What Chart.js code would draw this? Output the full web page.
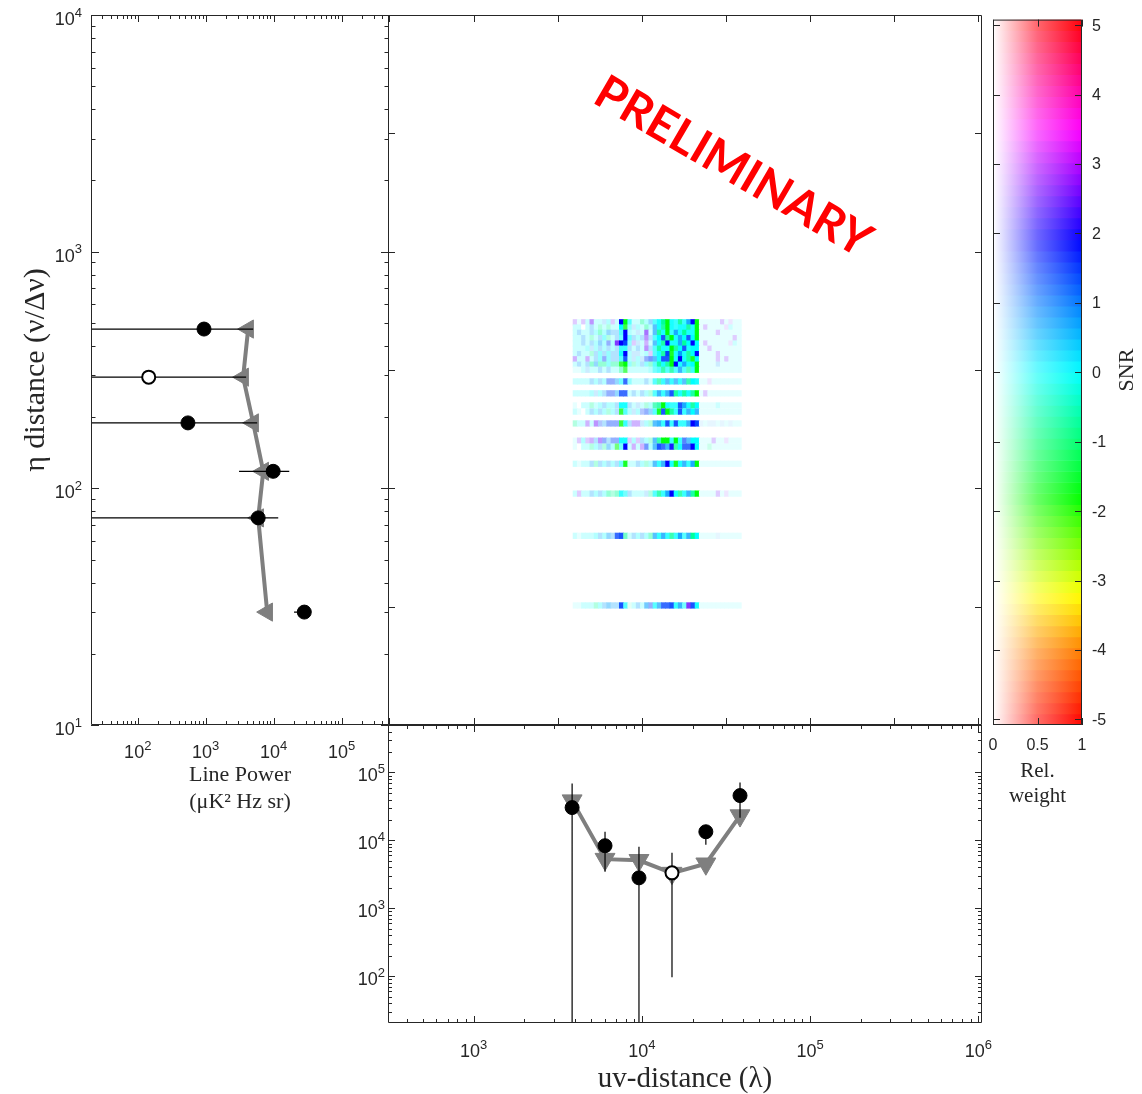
<!DOCTYPE html>
<html>
<head>
<meta charset="utf-8">
<script src="https://cdn.jsdelivr.net/npm/chart.js"></script>
<style>
  html, body { margin: 0; background: #fff; }
  #wrap { position: relative; width: 1142px; height: 1094px; }
  #wrap canvas { position: absolute; left: 0; top: 0; }
</style>
</head>
<body>
<div id="wrap">
  <canvas id="heatChart" width="1142" height="1094"></canvas>
  <canvas id="lineChart" width="1142" height="1094"></canvas>
  <canvas id="uvChart" width="1142" height="1094"></canvas>
  <canvas id="weightChart" width="1142" height="1094"></canvas>
</div>
<script>
// --- eta panel (left): line power per eta bin ---
const lineEta = [471, 295, 189, 118, 75, 30];
const linePower = [945, 145, 548, 9860, 5930, 28300];
const linePowerLow = [1, 1, 1, 3100, 1, 20000];
const linePowerHigh = [5000, 3940, 5730, 17000, 11700, 31000];
const lineOpen = [false, true, false, false, false, false];
const lineLimit = [4220, 3560, 5000, 7040, 5930, 8050];

// --- uv panel (bottom): power per uv bin ---
const uvDist = [3850, 6040, 9610, 15100, 24000, 38300];
const uvPower = [30400, 8350, 2810, 3330, 13400, 45700];
const uvPowerLow = [1, 3450, 1, 97, 8630, 21600];
const uvPowerHigh = [68800, 13400, 8070, 6580, 16500, 71100];
const uvOpen = [false, false, false, true, false, false];
const uvLimit = [38500, 5300, 5100, 3300, 4530, 23200];

// --- axis ranges and ticks ---
const powerMin = 20.5, powerMax = 5e5;
const etaMin = 10, etaMax = 1e4;
const uvMin = 310, uvMax = 1.05e6;
const snrMin = -5.08, snrMax = 5.08;

const powerDecades = [10, 100, 1000, 10000, 100000];
const powerLabelValues = [100, 1000, 10000, 100000];
const powerLabelExps = ['2', '3', '4', '5'];
const etaDecades = [10, 100, 1000, 10000];
const etaLabelExps = ['1', '2', '3', '4'];
const uvDecades = [100, 1000, 10000, 100000, 1000000];
const uvLabelValues = [1000, 10000, 100000, 1000000];
const uvLabelExps = ['3', '4', '5', '6'];
const uvGridTicks = [316, 1000, 3162, 10000, 31623, 100000, 316228, 1000000];
const etaGridTicks = [31.6, 100, 316, 1000, 3162];
const snrTicks = [-5, -4, -3, -2, -1, 0, 1, 2, 3, 4, 5];
const snrTickLabels = ['-5', '-4', '-3', '-2', '-1', '0', '1', '2', '3', '4', '5'];
const weightTicks = [0, 0.5, 1];
const weightTickLabels = ['0', '0.5', '1'];

// --- SNR map: one row per eta bin, 40 uv bins starting at uvBinStart ---
const uvBinStart = 3900;
const uvBinCount = 40;
const heatEta = [503, 478, 454, 431, 409, 389, 369, 351, 333, 317, 283, 252, 224, 211, 188, 159, 150, 127, 95, 63, 32];
// SNR code per cell
const heatSnrRows = [
  'v0v0v00+0v 0BG000-0+0 0-G00-0+BG 00000v0v00',
  '0000+0-0-0 00G0+00-0+ 0-G0000-0G 0v0000v000',
  '0+00+0-0++ +0B00+0v0+ -0G0+0-00G 0000v00000',
  '00+0-0+0-0 +0B0+0+v+0 0b-G0+0b0G 00000000v0',
  '00+0+0+0b0 vBb0v+0v0+ 0-B00+-0B0 0v00000v00',
  '0000+0+0+0 +00+0+0v+0 -00G-0b000 00v0000000',
  '0+00-+0+0+ +0B0++00v0 0-bG0+0-0B 0000v00000',
  'v00v0+0b0+ +0b0+0+bb+ 0bbG0B0-G0 0000v0v000',
  '0+0+-+--0- -GG0-0+0-0 -0-GB0+00G 0000+00000',
  '000+00+0+0 0-G0000000 0-0-0+0-0G 0000000000',
  '0000+0+0bb +0b0000+00 -0+0+0+-00 00v0000000',
  '00000+0+bb +bb0+0+0-0 +0+b-0-0-G 0v00000000',
  '0000-00+00 +00+0+0-0- -G000b+0-0 0000000000',
  '0000+0+0-0 +G00+0bb+0 GbG-0b0+0+ 0000000000',
  '-00v0vb+bb bG0+vv+0-+ +0b0b00+Bb +0++0+0+00',
  '0v0vv+vb+b b00v0v+0-+ -GG0G0b+00 000v00v000',
  '0000-0+-+0 G0B0v0vb0+ bb+B-0bbB0 00-0000000',
  '0000+-+0+0 +0G00+0-0+ 0+B0G0+0+G 0000000000',
  '0v00+0+0-- -00+000+-0 -0+B0-0+-G 0000v0v000',
  '000000+0++ bb-0+0+0-+ 0+0-0+0+-0 0000+00000',
  '00000-0+++ +b0-0+0+b0 +bbb0+0vb0 0000000000'
];
// relative weight code per cell (0 = none, 9 = full)
const heatWeightRows = [
  '2122422232 2996224346 8998787899 1111121111',
  '2202323232 2974232436 8898788889 1211111211',
  '2322334343 3693222526 8897889889 1111211111',
  '2232323432 3595333436 9889889899 1111111121',
  '2232334343 7994222326 8898889999 1211111121',
  '2223233333 3773232436 8889898899 1121111111',
  '2322334343 3893222326 8898898899 1111211111',
  '3223234443 3683232456 8889898889 1111212111',
  '2323444444 4794333446 8889988899 1111211111',
  '1122223232 2462222235 6767676679 1111111111',
  '2222333344 4574222326 6767676798 1111111111',
  '2222323344 4772323336 7778888889 1211111111',
  '1022323333 3883222336 7987788889 1111211111',
  '2102333333 3763233446 8898787797 1111111111',
  '3223243344 4773332336 7787877799 1111111111',
  '1232334434 4882323336 7997976699 1112111111',
  '1022333343 5592323536 8778787799 1121111111',
  '2122333333 3582233336 7798887789 1111111111',
  '2222333343 4753222236 7789877789 1111211111',
  '2122233343 7852333346 7777786799 1111111111',
  '1122233343 3861232546 6778775788 1111111111'
];
const snrCodes = { '0': 0, '+': 0.7, 'b': 1.4, 'B': 1.9, 'v': 2.5, '-': -0.7, 'g': -1.3, 'G': -1.7 };
const weightCodes = [0, 0.1, 0.2, 0.3, 0.42, 0.55, 0.66, 0.78, 0.9, 1];

// colour map: SNR -> hue, relative weight -> mix with white
const cmapSnr = [-5.08, -4, -3.2, -1.8, 0, 1.9, 3.5, 5.08];
const cmapHue = [0, 30, 60, 120, 180, 240, 300, 360];

const INK = '#262626';
const GRAY = '#7f7f7f';
const SANS = '"Liberation Sans", Arial, sans-serif';
const SERIF = '"Liberation Serif", "Times New Roman", serif';

Chart.defaults.font.family = SANS;
Chart.defaults.font.size = 18;
Chart.defaults.color = INK;

function snrColour(snr, w) {
  const s = Math.max(cmapSnr[0], Math.min(cmapSnr[cmapSnr.length - 1], snr));
  let h = 0;
  for (let i = 0; i < cmapSnr.length - 1; i++) {
    if (s >= cmapSnr[i] && s <= cmapSnr[i + 1]) {
      h = cmapHue[i] + (cmapHue[i + 1] - cmapHue[i]) * (s - cmapSnr[i]) / (cmapSnr[i + 1] - cmapSnr[i]);
      break;
    }
  }
  const f = n => { const k = (n + h / 60) % 6; return 1 - Math.max(Math.min(k, 4 - k, 1), 0); };
  const rgb = [f(5), f(3), f(1)].map(c => Math.round(255 * (1 - w + w * c)));
  return `rgb(${rgb.join(',')})`;
}

// log ticks: decades are major, 2..9 multiples are minor
function logTicks(decades, min, max) {
  const out = [];
  decades.forEach(d => {
    for (let m = 1; m <= 9; m++) {
      const v = d * m;
      if (v >= min && v <= max) out.push({ value: v, major: m === 1 });
    }
  });
  return out;
}
const labelFrom = (values, labels) => v => {
  const i = values.indexOf(v);
  return i < 0 ? '' : labels[i];
};

// box with inward ticks on all sides, power-of-ten labels and free text
function frame(lens, texts, powers) {
  return {
    id: 'frame',
    afterDatasetsDraw(chart) {
      const { ctx, chartArea: a } = chart;
      ctx.save();
      ctx.strokeStyle = INK;
      ctx.lineWidth = 1;
      ctx.beginPath();
      ['x', 'y'].forEach(id => {
        const s = chart.scales[id];
        const len = lens[id];
        s.ticks.forEach(t => {
          const l = t.major ? len[0] : len[1];
          const p = Math.round(s.getPixelForValue(t.value)) + 0.5;
          if (id === 'x') {
            ctx.moveTo(p, a.bottom); ctx.lineTo(p, a.bottom - l);
            ctx.moveTo(p, a.top); ctx.lineTo(p, a.top + l);
          } else {
            ctx.moveTo(a.left, p); ctx.lineTo(a.left + l, p);
            ctx.moveTo(a.right, p); ctx.lineTo(a.right - l, p);
          }
        });
      });
      ctx.rect(a.left + 0.5, a.top + 0.5, a.width - 1, a.height - 1);
      ctx.stroke();

      ctx.fillStyle = INK;
      ctx.textAlign = 'left';
      ctx.textBaseline = 'alphabetic';
      (powers || []).forEach(pw => {
        const s = chart.scales[pw.axis];
        pw.values.forEach((v, i) => {
          const p = s.getPixelForValue(v);
          ctx.font = `18px ${SANS}`;
          const wb = ctx.measureText('10').width;
          ctx.font = `13px ${SANS}`;
          const we = ctx.measureText(pw.exps[i]).width;
          let x0, yb;
          if (pw.axis === 'x') { x0 = p - (wb + we) / 2; yb = pw.baseline; }
          else { x0 = pw.right - wb - we; yb = p + pw.drop; }
          ctx.font = `18px ${SANS}`;
          ctx.fillText('10', x0, yb);
          ctx.font = `13px ${SANS}`;
          ctx.fillText(pw.exps[i], x0 + wb, yb - 8.5);
        });
      });

      (texts || []).forEach(tx => {
        ctx.save();
        ctx.translate(tx.x, tx.y);
        ctx.rotate(tx.angle * Math.PI / 180);
        ctx.font = tx.font;
        ctx.fillStyle = tx.color;
        ctx.textAlign = 'center';
        ctx.textBaseline = 'middle';
        ctx.fillText(tx.text, 0, 0);
        ctx.restore();
      });
      ctx.restore();
    }
  };
}

const base = {
  responsive: false, animation: false, events: [], devicePixelRatio: 1,
  plugins: { legend: { display: false }, tooltip: { enabled: false } }
};
const hidden = { grid: { display: false, drawTicks: false }, border: { display: false } };

// error bar segments, separated by gaps
const segments = pts => pts.flatMap(p => [p[0], p[1], { x: null, y: null }]);

// ---------- left panel ----------
new Chart(document.getElementById('lineChart'), {
  type: 'scatter',
  data: {
    datasets: [
      {
        data: lineEta.map((e, i) => ({ x: linePower[i], y: e })),
        pointRadius: lineOpen.map(o => o ? 6.5 : 7),
        pointBackgroundColor: lineOpen.map(o => o ? '#fff' : '#000'),
        pointBorderColor: '#000',
        pointBorderWidth: lineOpen.map(o => o ? 2 : 1),
        order: 0
      },
      {
        data: segments(lineEta.map((e, i) => [{ x: linePowerLow[i], y: e }, { x: linePowerHigh[i], y: e }])),
        showLine: true, borderColor: '#000', borderWidth: 1.2, pointRadius: 0, order: 1
      },
      {
        data: lineEta.map((e, i) => ({ x: lineLimit[i], y: e })),
        showLine: true, borderColor: GRAY, borderWidth: 4,
        pointStyle: 'triangle', pointRotation: -90, pointRadius: 10.5,
        pointBackgroundColor: GRAY, pointBorderColor: GRAY, pointBorderWidth: 1, order: 2
      }
    ]
  },
  options: {
    ...base,
    layout: { padding: { left: 0, top: 15, right: 753, bottom: 279 } },
    scales: {
      x: {
        type: 'logarithmic', min: powerMin, max: powerMax, ...hidden,
        afterBuildTicks: s => { s.ticks = logTicks(powerDecades, powerMin, powerMax); },
        afterFit: s => { s.height = 90; },
        ticks: { display: false, autoSkip: false },
        title: { display: true, text: ['Line Power', '(μK² Hz sr)'], color: INK, padding: 0,
                 font: { family: SERIF, size: 22, lineHeight: 1.2 } }
      },
      y: {
        type: 'logarithmic', min: etaMin, max: etaMax, ...hidden,
        afterBuildTicks: s => { s.ticks = logTicks(etaDecades, etaMin, etaMax); },
        afterFit: s => { s.width = 91; },
        ticks: { display: false, autoSkip: false },
        title: { display: true, text: 'η distance (ν/Δν)', color: INK, padding: { top: 18, bottom: 0 },
                 font: { family: SERIF, size: 30, lineHeight: 1.2 } }
      }
    }
  },
  plugins: [frame({ x: [7, 4], y: [8, 4.5] }, [], [
    { axis: 'x', values: powerLabelValues, exps: powerLabelExps, baseline: 758 },
    { axis: 'y', values: etaDecades, exps: etaLabelExps, right: 82, drop: 10 }
  ])]
});

// ---------- centre panel: SNR map ----------
const uvEdges = Array.from({ length: uvBinCount + 1 }, (_, c) => uvBinStart * Math.pow(10, c / uvBinCount));
const heatCells = [];
const heatColours = [];
heatEta.forEach((eta, r) => {
  const snrRow = heatSnrRows[r].replace(/ /g, '');
  const wRow = heatWeightRows[r].replace(/ /g, '');
  for (let c = 0; c < uvBinCount; c++) {
    heatCells.push({ y: eta, x: [uvEdges[c], uvEdges[c + 1]] });
    heatColours.push(snrColour(snrCodes[snrRow[c]] || 0, weightCodes[+wRow[c]] || 0));
  }
});

new Chart(document.getElementById('heatChart'), {
  type: 'bar',
  data: { datasets: [{ data: heatCells, backgroundColor: heatColours, borderWidth: 0, barThickness: 5.6 }] },
  options: {
    ...base,
    indexAxis: 'y',
    layout: { padding: { left: 388, top: 15, right: 160, bottom: 369 } },
    scales: {
      x: {
        type: 'logarithmic', display: false, min: uvMin, max: uvMax,
        afterBuildTicks: s => { s.ticks = uvGridTicks.map(v => ({ value: v, major: true })); },
        ticks: { autoSkip: false }
      },
      y: {
        type: 'logarithmic', display: false, offset: false, min: etaMin, max: etaMax,
        afterBuildTicks: s => { s.ticks = etaGridTicks.map(v => ({ value: v, major: true })); },
        ticks: { autoSkip: false }
      }
    }
  },
  plugins: [frame({ x: [7, 7], y: [7, 7] }, [
    { text: 'PRELIMINARY', x: 733, y: 167, angle: 30.3, font: 'bold 47px Lato, "Open Sans", sans-serif', color: '#ff0000' }
  ])]
});

// ---------- bottom panel ----------
new Chart(document.getElementById('uvChart'), {
  type: 'scatter',
  data: {
    datasets: [
      {
        data: uvDist.map((u, i) => ({ x: u, y: uvPower[i] })),
        pointRadius: uvOpen.map(o => o ? 6.5 : 7),
        pointBackgroundColor: uvOpen.map(o => o ? '#fff' : '#000'),
        pointBorderColor: '#000',
        pointBorderWidth: uvOpen.map(o => o ? 2 : 1),
        order: 0
      },
      {
        data: segments(uvDist.map((u, i) => [{ x: u, y: uvPowerLow[i] }, { x: u, y: uvPowerHigh[i] }])),
        showLine: true, borderColor: '#000', borderWidth: 1.2, pointRadius: 0, order: 1
      },
      {
        data: uvDist.map((u, i) => ({ x: u, y: uvLimit[i] })),
        showLine: true, borderColor: GRAY, borderWidth: 4,
        pointStyle: 'triangle', pointRotation: 180, pointRadius: 11.5,
        pointBackgroundColor: GRAY, pointBorderColor: GRAY, pointBorderWidth: 1, order: 2
      }
    ]
  },
  options: {
    ...base,
    layout: { padding: { left: 328, top: 725, right: 160, bottom: 0 } },
    scales: {
      x: {
        type: 'logarithmic', min: uvMin, max: uvMax, ...hidden,
        afterBuildTicks: s => { s.ticks = logTicks(uvDecades, uvMin, uvMax); },
        afterFit: s => { s.height = 71; },
        ticks: { display: false, autoSkip: false },
        title: { display: true, text: 'uv-distance (λ)', color: INK, padding: 0,
                 font: { family: SERIF, size: 29, lineHeight: 1 } }
      },
      y: {
        type: 'logarithmic', min: powerMin, max: powerMax, ...hidden,
        afterBuildTicks: s => { s.ticks = logTicks(powerDecades, powerMin, powerMax); },
        afterFit: s => { s.width = 60; },
        ticks: { display: false, autoSkip: false }
      }
    }
  },
  plugins: [frame({ x: [7, 4], y: [7, 4] }, [], [
    { axis: 'x', values: uvLabelValues, exps: uvLabelExps, baseline: 1057 },
    { axis: 'y', values: powerLabelValues, exps: powerLabelExps, right: 385, drop: 9 }
  ])]
});

// ---------- colour key: SNR vs relative weight ----------
const cbarBands = Array.from({ length: 64 }, (_, i) => snrMin + (i + 0.5) * (snrMax - snrMin) / 64);

new Chart(document.getElementById('weightChart'), {
  type: 'bar',
  data: {
    datasets: [{
      data: cbarBands.map(s => ({ y: s, x: [0, 1] })),
      backgroundColor: c => {
        const a = c.chart.chartArea;
        if (!a || !c.raw) return '#fff';
        const g = c.chart.ctx.createLinearGradient(a.left, 0, a.right, 0);
        g.addColorStop(0, '#ffffff');
        g.addColorStop(0.5, snrColour(c.raw.y, 0.6));
        g.addColorStop(1, snrColour(c.raw.y, 1));
        return g;
      },
      borderWidth: 0, barPercentage: 1, categoryPercentage: 1
    }]
  },
  options: {
    ...base,
    indexAxis: 'y',
    layout: { padding: { left: 993, top: 15, right: 30, bottom: 285.5 } },
    scales: {
      x: {
        type: 'linear', min: 0, max: 1, ...hidden,
        afterBuildTicks: s => { s.ticks = weightTicks.map(v => ({ value: v, major: true })); },
        afterFit: s => { s.height = 83.5; },
        ticks: { autoSkip: false, maxRotation: 0, padding: 11, font: { size: 16 }, callback: labelFrom(weightTicks, weightTickLabels) },
        title: { display: true, text: ['Rel.', 'weight'], color: INK, padding: 0,
                 font: { family: SERIF, size: 21, lineHeight: 1.19 } }
      },
      y: {
        type: 'linear', position: 'right', offset: false, min: snrMin, max: snrMax, ...hidden,
        afterBuildTicks: s => { s.ticks = snrTicks.map(v => ({ value: v, major: true })); },
        afterFit: s => { s.width = 30; },
        ticks: { autoSkip: false, padding: 10, labelOffset: 1, font: { size: 16 }, callback: labelFrom(snrTicks, snrTickLabels) }
      }
    }
  },
  plugins: [frame({ x: [7, 7], y: [7, 7] }, [
    { text: 'SNR', x: 1127, y: 370, angle: -90, font: '22px "Liberation Serif", serif', color: INK }
  ])]
});
</script>
</body>
</html>
